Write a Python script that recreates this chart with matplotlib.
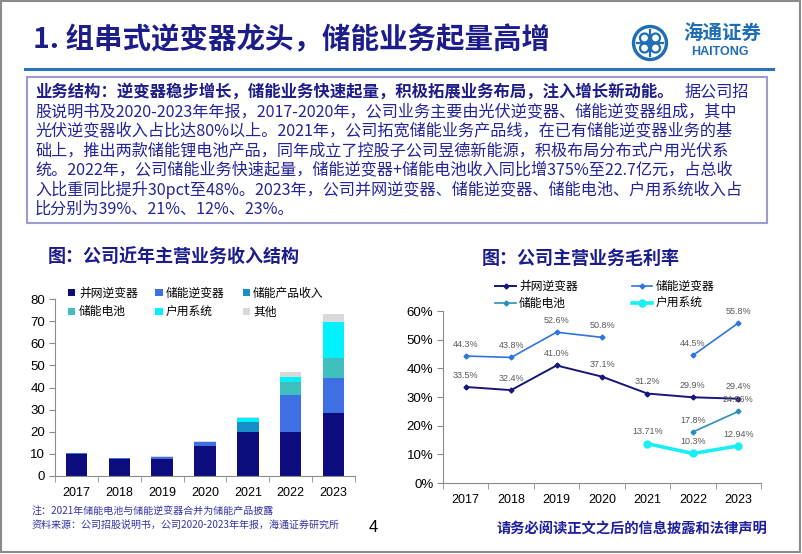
import numpy as np
import matplotlib.pyplot as plt
from matplotlib.patches import Rectangle, Circle
from matplotlib.lines import Line2D

plt.rcParams['font.family'] = ['Noto Sans CJK SC', 'DejaVu Sans']

# ---- data -------------------------------------------------------------
years = ['2017', '2018', '2019', '2020', '2021', '2022', '2023']

# revenue structure (亿元), stacked bottom -> top
rev_grid_inv = [10.0, 7.8, 7.6, 13.7, 19.7, 20.0, 28.6]
rev_ess_inv = [0.3, 0.2, 1.2, 1.8, 0.0, 16.6, 15.8]
rev_ess_prod = [0.0, 0.0, 0.0, 0.0, 4.8, 0.0, 0.0]
rev_battery = [0.0, 0.0, 0.0, 0.0, 0.0, 6.0, 8.8]
rev_household = [0.0, 0.0, 0.0, 0.0, 1.9, 2.3, 16.5]
rev_other = [0.1, 0.1, 0.3, 0.1, 0.1, 2.2, 3.4]

# gross margin (%)
gm_grid_inv = [33.5, 32.4, 41.0, 37.1, 31.2, 29.9, 29.4]
gm_ess_inv = [44.3, 43.8, 52.6, 50.8, np.nan, 44.5, 55.8]
gm_battery = [np.nan, np.nan, np.nan, np.nan, np.nan, 17.8, 24.96]
gm_household = [np.nan, np.nan, np.nan, np.nan, 13.71, 10.3, 12.94]

title = '1. 组串式逆变器龙头，储能业务起量高增'
box_bold = '业务结构：逆变器稳步增长，储能业务快速起量，积极拓展业务布局，注入增长新动能。'
box_lines = [
    '据公司招',
    '股说明书及2020-2023年年报，2017-2020年，公司业务主要由光伏逆变器、储能逆变器组成，其中',
    '光伏逆变器收入占比达80%以上。2021年，公司拓宽储能业务产品线，在已有储能逆变器业务的基',
    '础上，推出两款储能锂电池产品，同年成立了控股子公司昱德新能源，积极布局分布式户用光伏系',
    '统。2022年，公司储能业务快速起量，储能逆变器+储能电池收入同比增375%至22.7亿元，占总收',
    '入比重同比提升30pct至48%。2023年，公司并网逆变器、储能逆变器、储能电池、户用系统收入占',
    '比分别为39%、21%、12%、23%。',
]

W, H = 802, 554
NAVY = '#1c1c8a'


def fx(x):
    return x / W


def fy(y):
    return 1 - y / H


fig = plt.figure(figsize=(W / 100, H / 100), dpi=100)

# slide frame
fig.patches.append(Rectangle((fx(1), fy(552)), 799 / W, 551 / H, transform=fig.transFigure,
                             fill=False, ec='#8a8a8a', lw=1.5))

# title + rule
fig.text(fx(33), fy(40), title, fontsize=20.5, fontweight='bold', color=NAVY, va='center')
fig.add_artist(Line2D([fx(25), fx(773)], [fy(69), fy(69)], color='#2e72b8', lw=2.2))

# logo
lax = fig.add_axes([fx(630), fy(63), 40 / W, 40 / H])
lax.set_xlim(-20, 20)
lax.set_ylim(-20, 20)
lax.axis('off')
LOGO = '#1f6db4'
lax.add_patch(Circle((0, 0), 16.5, fill=False, ec=LOGO, lw=2.4))
for cx, cy in [(-5.5, 5), (5.5, 5), (-5.5, -5), (5.5, -5)]:
    lax.add_patch(Circle((cx, cy), 4.5, fill=False, ec=LOGO, lw=1.6))
lax.plot([0, 0], [-13, 13], color=LOGO, lw=1.6)
lax.plot([-13, 13], [0, 0], color=LOGO, lw=1.6)
fig.text(fx(722), fy(34), '海通证券', fontsize=14, fontweight='bold', color=LOGO,
         ha='center', va='center')
fig.text(fx(720), fy(52), 'HAITONG', fontsize=9, fontweight='bold', color=LOGO,
         ha='center', va='center', family='Liberation Sans')

# text box
fig.patches.append(Rectangle((fx(27), fy(223)), 740 / W, 146 / H, transform=fig.transFigure,
                             fill=False, ec='#9c9cd0', lw=1.5))
line_y = [92, 111.5, 131, 150.5, 170, 189.5, 209]
fig.text(fx(35), fy(line_y[0]), box_bold, fontsize=11.8, fontweight='bold', color=NAVY, va='center')
fig.text(fx(685), fy(line_y[0]), box_lines[0], fontsize=11.6, color='#23239a', va='center')
for yy, s in zip(line_y[1:], box_lines[1:]):
    fig.text(fx(35), fy(yy), s, fontsize=11.6, color='#23239a', va='center')

# chart titles
fig.text(fx(48), fy(257), '图：公司近年主营业务收入结构', fontsize=13, fontweight='bold', color=NAVY, va='center')
fig.text(fx(482), fy(258), '图：公司主营业务毛利率', fontsize=13, fontweight='bold', color=NAVY, va='center')


def style_axes(ax):
    for s in ['top', 'right']:
        ax.spines[s].set_visible(False)
    for s in ['left', 'bottom']:
        ax.spines[s].set_color('#8c8c8c')
        ax.spines[s].set_linewidth(0.8)
    ax.set_xlim(-0.5, 6.5)
    ax.set_xticks(range(len(years)))
    ax.set_xticklabels(years)
    ax.set_xticks(np.arange(-0.5, 7, 1), minor=True)
    ax.tick_params(axis='x', which='major', length=0, pad=8, labelsize=9)
    ax.tick_params(axis='x', which='minor', length=4, color='#8c8c8c')
    ax.tick_params(axis='y', length=4, color='#8c8c8c', labelsize=9.5, pad=3)
    for lab in ax.get_xticklabels() + ax.get_yticklabels():
        lab.set_fontfamily('Liberation Sans')


# ---- chart 1: stacked bars ---------------------------------------------
ax1 = fig.add_axes([fx(55), fy(476), 300 / W, 177 / H])
x = np.arange(len(years))
series1 = [
    ('并网逆变器', rev_grid_inv, '#0c0c7e'),
    ('储能逆变器', rev_ess_inv, '#3e6fe3'),
    ('储能产品收入', rev_ess_prod, '#1790c9'),
    ('储能电池', rev_battery, '#40bfbf'),
    ('户用系统', rev_household, '#00f2ff'),
    ('其他', rev_other, '#d9d9d9'),
]
bottom = np.zeros(len(years))
bars = {}
for name, vals, c in series1:
    bars[name] = ax1.bar(x, vals, 0.5, bottom=bottom, color=c, label=name)
    bottom += np.array(vals)
ax1.set_ylim(0, 80)
ax1.set_yticks(range(0, 81, 10))
style_axes(ax1)
order1 = ['并网逆变器', '储能电池', '储能逆变器', '户用系统', '储能产品收入', '其他']
fig.legend([bars[n] for n in order1], order1, ncol=3, loc='center',
           bbox_to_anchor=(fx(196), fy(302.5)), bbox_transform=fig.transFigure,
           frameon=False, fontsize=8.5, handlelength=0.6, handleheight=0.6,
           handletextpad=0.3, columnspacing=1.5, labelspacing=0.5, borderpad=0)

# ---- chart 2: gross margin lines ---------------------------------------
ax2 = fig.add_axes([fx(443), fy(483), 318 / W, 172 / H])
series2 = [
    ('并网逆变器', gm_grid_inv, '#16167c', 'D', 2.5, 1.4),
    ('储能逆变器', gm_ess_inv, '#2f74df', 'D', 2.5, 1.2),
    ('储能电池', gm_battery, '#2a8fbf', 'D', 2.5, 1.2),
    ('户用系统', gm_household, '#19eef5', 'o', 5, 2.6),
]
lines = {}
for name, vals, c, m, ms, lw in series2:
    lines[name], = ax2.plot(x, vals, color=c, marker=m, markersize=ms, lw=lw, label=name)
    for xi, v in zip(x, vals):
        if np.isnan(v):
            continue
        s = f'{v:.2f}'
        if s.endswith('0'):
            s = f'{v:.1f}'
        ax2.annotate(s + '%', (xi, v), xytext=(0, 8.5), textcoords='offset points',
                     ha='center', va='center', fontsize=6.5, color='#595959',
                     family='Liberation Sans')
ax2.set_ylim(0, 60)
ax2.set_yticks(range(0, 61, 10))
ax2.set_yticklabels([f'{t}%' for t in range(0, 61, 10)])
style_axes(ax2)
order2 = ['并网逆变器', '储能电池', '储能逆变器', '户用系统']
fig.legend([lines[n] for n in order2], order2, ncol=2, loc='center',
           bbox_to_anchor=(fx(605), fy(295)), bbox_transform=fig.transFigure,
           frameon=False, fontsize=8.5, handlelength=1.7, handletextpad=0.3,
           columnspacing=4.6, labelspacing=0.3, borderpad=0)

# footer
fig.text(fx(32), fy(512), '注：2021年储能电池与储能逆变器合并为储能产品披露', fontsize=7.2,
         color='#3434a6', va='center')
fig.text(fx(32), fy(525), '资料来源：公司招股说明书，公司2020-2023年年报，海通证券研究所', fontsize=7.2,
         color='#3434a6', va='center')
fig.text(fx(373), fy(528), '4', fontsize=12, color='black', ha='center', va='center',
         family='Liberation Sans')
fig.text(fx(767), fy(529), '请务必阅读正文之后的信息披露和法律声明', fontsize=10.3,
         fontweight='bold', color='#1f1f9c', ha='right', va='center')

fig.savefig('out.png', dpi=100)
